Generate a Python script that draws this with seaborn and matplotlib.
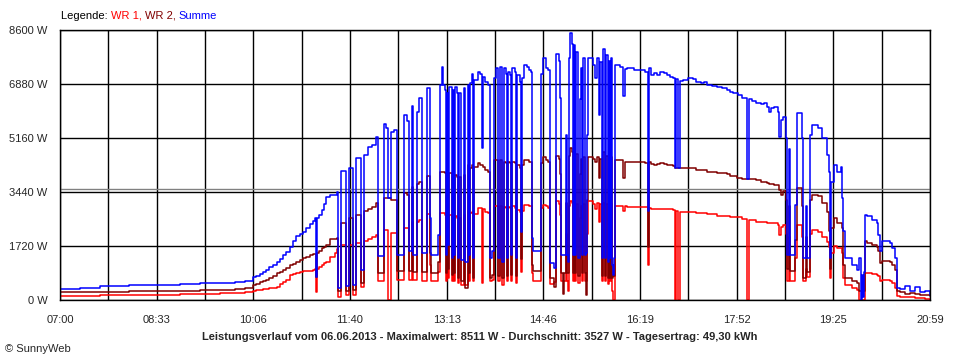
import matplotlib
matplotlib.use("Agg")
import matplotlib.pyplot as plt
import seaborn as sns
import pandas as pd

# Leistungsverlauf 06.06.2013, values
times = ["07:00", "07:19", "07:39", "08:07", "08:27", "08:56", "09:15", "09:34", "09:49", "09:58",
         "10:06", "10:09", "10:13", "10:16", "10:19", "10:22", "10:25", "10:29", "10:32", "10:35",
         "10:38", "10:42", "10:45", "10:48", "10:51", "10:54", "10:57", "11:01", "11:04", "11:06",
         "11:07", "11:08", "11:10", "11:13", "11:15", "11:17", "11:20", "11:25", "11:27", "11:28",
         "11:31", "11:36", "11:39", "11:43", "11:45", "11:50", "11:53", "11:57", "12:01", "12:05",
         "12:07", "12:12", "12:14", "12:16", "12:19", "12:22", "12:25", "12:32", "12:35", "12:37",
         "12:39", "12:40", "12:44", "12:46", "12:49", "12:54", "12:57", "12:58", "13:05", "13:06",
         "13:08", "13:09", "13:11", "13:12", "13:13", "13:14", "13:15", "13:18", "13:19", "13:20",
         "13:21", "13:23", "13:24", "13:25", "13:27", "13:30", "13:31", "13:33", "13:34", "13:35",
         "13:37", "13:38", "13:39", "13:43", "13:45", "13:47", "13:48", "13:50", "13:53", "13:55",
         "13:57", "13:59", "14:00", "14:02", "14:04", "14:06", "14:08", "14:10", "14:11", "14:12",
         "14:14", "14:15", "14:16", "14:19", "14:20", "14:21", "14:24", "14:25", "14:26", "14:27",
         "14:30", "14:32", "14:34", "14:35", "14:36", "14:44", "14:46", "14:49", "14:51", "14:53",
         "14:56", "14:58", "15:01", "15:02", "15:03", "15:05", "15:06", "15:08", "15:09", "15:10",
         "15:11", "15:12", "15:14", "15:15", "15:16", "15:17", "15:18", "15:20", "15:21", "15:22",
         "15:23", "15:24", "15:26", "15:27", "15:28", "15:29", "15:34", "15:36", "15:38", "15:40",
         "15:41", "15:43", "15:44", "15:46", "15:47", "15:48", "15:49", "15:50", "15:51", "15:52",
         "15:53", "15:54", "15:55", "16:00", "16:03", "16:05", "16:07", "16:14", "16:24", "16:27",
         "16:28", "16:30", "16:33", "16:36", "16:39", "16:42", "16:45", "16:48", "16:51", "16:53",
         "16:54", "16:56", "16:58", "17:01", "17:06", "17:10", "17:13", "17:18", "17:21", "17:24",
         "17:29", "17:34", "17:38", "17:43", "17:46", "17:49", "17:53", "17:54", "17:58", "18:03",
         "18:04", "18:07", "18:11", "18:16", "18:19", "18:22", "18:24", "18:26", "18:29", "18:32",
         "18:33", "18:35", "18:37", "18:40", "18:41", "18:43", "18:44", "18:49", "18:51", "18:56",
         "18:57", "18:59", "19:00", "19:03", "19:05", "19:11", "19:15", "19:20", "19:22", "19:23",
         "19:24", "19:26", "19:29", "19:33", "19:34", "19:35", "19:37", "19:44", "19:49", "19:51",
         "19:52", "19:53", "19:54", "19:55", "19:56", "19:58", "20:03", "20:08", "20:09", "20:11",
         "20:13", "20:20", "20:22", "20:25", "20:27", "20:30", "20:35", "20:40", "20:45", "20:49",
         "20:54", "20:59"]

summe = [350, 390, 436, 470, 487, 510, 531, 550, 563, 620,
         732, 770, 818, 880, 960, 1042, 1110, 1200, 1300, 1433,
         1530, 1698, 1880, 2049, 2110, 2177, 2280, 2410, 2520, 2602,
         742, 2620, 2700, 2867, 3050, 3291, 3344, 3338, 3450, 380,
         4120, 435, 4200, 490, 4520, 965, 4620, 4880, 4940, 5200,
         1390, 5600, 5470, 3240, 5360, 5400, 1440, 5900, 5690, 1550,
         6170, 1440, 6000, 6420, 1500, 6740, 2600, 1440, 2080, 6850,
         7430, 6850, 6700, 1440, 6600, 1760, 6800, 1340, 6700, 1440,
         6800, 6600, 1340, 6600, 1270, 6740, 1220, 6850, 1440, 6900,
         7190, 1340, 7000, 7270, 7200, 4830, 7110, 6950, 6850, 1340,
         1550, 7060, 7400, 1340, 7430, 1200, 7380, 7200, 1340, 7270,
         7170, 1440, 7380, 7270, 1340, 7170, 6950, 2180, 7060, 7500,
         7430, 7320, 7270, 1970, 1550, 7200, 7700, 7400, 7320, 1180,
         1020, 7850, 7600, 6420, 1440, 1440, 1440, 5260, 1440, 1200,
         7700, 8511, 8170, 1440, 8120, 1440, 7900, 1340, 6400, 7380,
         1440, 7700, 1440, 1500, 5260, 7700, 7480, 7060, 7700, 5890,
         7590, 1340, 8010, 1340, 7800, 1200, 7600, 1340, 7700, 1100,
         800, 1340, 7480, 7430, 6500, 7350, 7380, 7330, 7270, 2820,
         7380, 7170, 7220, 7170, 7270, 7240, 7170, 7110, 7080, 4220,
         7050, 4220, 6980, 7010, 7060, 7030, 6950, 6900, 6930, 6850,
         6820, 6790, 6740, 6690, 6640, 6580, 6580, 6530, 6420, 3850,
         6400, 6340, 6290, 6230, 6260, 6160, 5980, 6100, 6160, 6000,
         5200, 5730, 5840, 5150, 1440, 4800, 1440, 3030, 5950, 5150,
         1340, 3000, 1340, 5260, 5580, 5470, 5150, 4620, 4090, 1340,
         3770, 4300, 4090, 4250, 3240, 2200, 1340, 1120, 960, 1340,
         0, 800, 100, 900, 2710, 2660, 2550, 2450, 2080, 1550,
         1870, 1810, 1650, 1340, 380, 350, 450, 300, 400, 250,
         300, 170]

wr2 = [245, 255, 265, 280, 287, 300, 308, 320, 340, 390,
       478, 520, 560, 600, 650, 700, 770, 850, 900, 960,
       1020, 1115, 1160, 1200, 1260, 1327, 1380, 1433, 1460, 1480,
       742, 1500, 1560, 1650, 1700, 1752, 1932, 1950, 1965, 275,
       2450, 280, 2600, 320, 2710, 540, 2820, 2900, 2950, 3080,
       860, 3240, 3240, 3240, 3190, 3200, 910, 3400, 3350, 910,
       3600, 900, 3700, 3770, 880, 3950, 1500, 860, 1200, 4090,
       4090, 4090, 4050, 860, 4000, 1000, 4040, 800, 4000, 860,
       3990, 3930, 700, 3930, 590, 3990, 380, 4300, 860, 4200,
       4300, 700, 4250, 4360, 4300, 4300, 4250, 4150, 4090, 700,
       800, 4460, 4460, 760, 4460, 700, 4410, 4360, 760, 4410,
       4360, 800, 4410, 4360, 760, 4300, 4200, 1300, 4300, 4460,
       4460, 4410, 4410, 1100, 910, 4360, 4570, 4460, 4410, 700,
       430, 4600, 4500, 4000, 860, 200, 860, 3100, 860, 860,
       4600, 4830, 4700, 860, 4700, 860, 4650, 760, 4000, 4500,
       860, 4570, 860, 150, 3200, 4570, 4500, 4400, 4570, 3900,
       4500, 760, 4700, 760, 4600, 700, 4500, 700, 4550, 700,
       800, 760, 4460, 4460, 3880, 4410, 4410, 4400, 4360, 1700,
       4390, 4330, 4300, 4330, 4360, 4330, 4300, 4300, 4260, 4220,
       4220, 4220, 4220, 4200, 4200, 4210, 4140, 4140, 4140, 4090,
       4090, 4060, 4030, 4010, 3960, 3960, 3900, 3900, 3860, 3850,
       3850, 3850, 3820, 3770, 3770, 3720, 3690, 3690, 3670, 3670,
       3510, 3350, 3460, 3190, 1000, 3000, 910, 1900, 3560, 3000,
       700, 2000, 900, 3200, 3350, 3300, 3100, 2800, 2200, 1000,
       2300, 2600, 2450, 2450, 2300, 1120, 700, 590, 540, 275,
       275, 275, 275, 275, 1870, 1810, 1750, 1700, 1550, 1180,
       1230, 1210, 1120, 960, 275, 250, 200, 230, 180, 150,
       160, 120]

wr1 = [118, 140, 159, 165, 170, 190, 202, 215, 223, 270,
       297, 310, 330, 340, 355, 372, 390, 430, 500, 560,
       650, 800, 840, 870, 900, 930, 930, 923, 950, 980,
       265, 1000, 1050, 1120, 1170, 1221, 1380, 1500, 1624, 100,
       1760, 160, 1760, 170, 1810, 420, 1870, 1950, 2000, 2080,
       590, 2240, 2240, 0, 2130, 2150, 650, 2290, 2290, 650,
       2500, 640, 2500, 2550, 620, 2750, 1100, 590, 880, 2770,
       2770, 2770, 2720, 590, 2700, 700, 2710, 590, 2660, 590,
       2660, 2620, 540, 2620, 490, 2700, 490, 2820, 590, 2760,
       2800, 590, 2750, 2930, 2930, 530, 2900, 2800, 2760, 590,
       650, 2980, 2980, 590, 2980, 490, 2950, 2930, 590, 2950,
       2930, 590, 2980, 2930, 540, 2880, 2800, 900, 2850, 3030,
       3030, 2980, 2980, 850, 590, 2930, 3030, 2980, 2930, 500,
       580, 3140, 3050, 2700, 590, 590, 590, 2100, 590, 300,
       3000, 3140, 3100, 590, 3100, 590, 3050, 540, 2600, 3000,
       590, 3050, 590, 600, 2100, 3140, 3050, 2900, 3100, 2500,
       3050, 590, 3100, 590, 3050, 500, 3000, 590, 3050, 300,
       0, 0, 2980, 2980, 2820, 2980, 2950, 2950, 2950, 1120,
       2930, 2900, 2900, 2900, 2900, 2900, 2900, 2900, 2880, 0,
       2820, 0, 2790, 2790, 2790, 2790, 2780, 2770, 2770, 2750,
       2730, 2690, 2680, 2660, 2650, 2640, 2630, 2630, 2590, 0,
       2550, 2550, 2500, 2470, 2470, 2460, 2450, 2450, 2450, 2400,
       2080, 2310, 2400, 2100, 590, 2000, 590, 1350, 2400, 2000,
       590, 1000, 740, 2100, 2240, 2180, 2000, 1860, 1700, 700,
       1500, 1710, 1650, 1650, 1500, 700, 490, 380, 330, 0,
       0, 0, 0, 0, 860, 860, 830, 810, 750, 590,
       650, 590, 540, 380, 120, 100, 80, 100, 60, 50,
       30, 0]

x_labels = ["07:00", "08:33", "10:06", "11:40", "13:13", "14:46", "16:19", "17:52", "19:25", "20:59"]
y_ticks = [0, 1720, 3440, 5160, 6880, 8600]
durchschnitt = 3527
title = ("Leistungsverlauf vom 06.06.2013 - Maximalwert: 8511 W - "
         "Durchschnitt: 3527 W - Tagesertrag: 49,30 kWh")

assert len(times) == len(summe) == len(wr1) == len(wr2)

sns.set_style("white")
plt.rcParams["font.family"] = ["Liberation Sans", "DejaVu Sans"]

minutes = [int(t[:2]) * 60 + int(t[3:]) for t in times]
df = pd.DataFrame({"min": minutes, "WR 1": wr1, "WR 2": wr2, "Summe": summe})
long = df.melt(id_vars="min", var_name="serie", value_name="watt")

fig = plt.figure(figsize=(9.6, 3.6), dpi=100)
ax = fig.add_axes([60 / 960, 60 / 360, 870 / 960, 270 / 360])

sns.lineplot(data=long, x="min", y="watt", hue="serie",
             hue_order=["WR 1", "WR 2", "Summe"],
             palette=["#ff0000", "#800000", "#0000ff"],
             drawstyle="steps-post", lw=1.1,
             estimator=None, legend=False, ax=ax)
ax.axhline(durchschnitt, color="#808080", lw=1, zorder=1.5)

t0 = minutes[0]
t1 = minutes[-1]
step = (t1 - t0) / 18
xt = [t0 + i * step for i in range(19)]
ax.set_xlim(t0, t1)
ax.set_ylim(0, 8600)
ax.set_xticks(xt)
ax.set_xticklabels([x_labels[i // 2] if i % 2 == 0 else "" for i in range(19)])
ax.set_yticks(y_ticks)
ax.set_yticklabels([f"{v} W" for v in y_ticks])
ax.set_xlabel("")
ax.set_ylabel("")
ax.grid(True, color="black", lw=1)
ax.tick_params(length=5, width=1, color="black", labelsize=8, pad=4, direction="out")
ax.tick_params(axis="x", pad=6)
for s in ax.spines.values():
    s.set_color("black")
    s.set_linewidth(1)

fig.text(0.5, 1 - 337 / 360, title, ha="center", va="center", fontsize=8, fontweight="bold")
fig.text(5 / 960, 1 - 349 / 360, "\u00a9 SunnyWeb", ha="left", va="center", fontsize=8)

# coloured legend text, placed piece by piece
x = 61 / 960
for txt, col in [("Legende: ", "black"), ("WR 1, ", "#ff0000"), ("WR 2, ", "#800000"), ("Summe", "#0000ff")]:
    t = fig.text(x, 1 - 16 / 360, txt, color=col, fontsize=8, va="center", ha="left")
    fig.canvas.draw()
    x = t.get_window_extent().x1 / 960

fig.savefig("out.png", dpi=100)
